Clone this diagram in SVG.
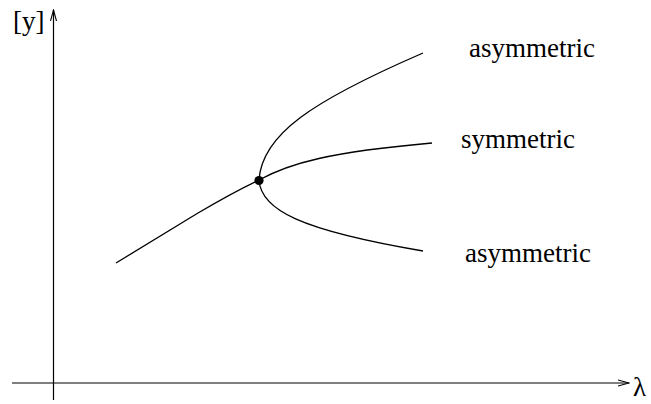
<svg xmlns="http://www.w3.org/2000/svg" width="651" height="404" viewBox="0 0 651 404">
<style>
.ln{fill:none;stroke:#000;stroke-width:1.3}
.ax{fill:none;stroke:#000;stroke-width:1.2}
.t{font-family:"Liberation Serif","Times New Roman",serif;font-size:27px;fill:#000}
</style>
<defs>
<marker id="arr" markerWidth="12" markerHeight="8" refX="11" refY="4" orient="auto" markerUnits="userSpaceOnUse">
<path d="M0,1 L11,4 L0,7" fill="none" stroke="#000" stroke-width="1.1"/>
</marker>
</defs>
<g id="axes">
<line class="ax" x1="12" y1="383" x2="629" y2="383" marker-end="url(#arr)"/>
<line class="ax" x1="53.5" y1="400" x2="53.5" y2="10" marker-end="url(#arr)"/>
</g>
<g id="connectors">
<path class="ln" d="M116,263 L198,213 C220,200 240,189 259,180"/>
<path class="ln" d="M259,180 C262,135 310,102 423,53"/>
<path class="ln" d="M259,180 C290,163 330,152 432,143"/>
<path class="ln" d="M259,180 C261,210 300,230 423,251"/>
</g>
<g id="bifurcation"><circle cx="259" cy="180.5" r="4.6" fill="#000"/></g>
<g id="labels">
<text class="t" x="13" y="30">[y]</text>
<text class="t" x="633" y="396">λ</text>
<text class="t" x="469" y="57">asymmetric</text>
<text class="t" x="461" y="148">symmetric</text>
<text class="t" x="465" y="262">asymmetric</text>
</g>
</svg>
